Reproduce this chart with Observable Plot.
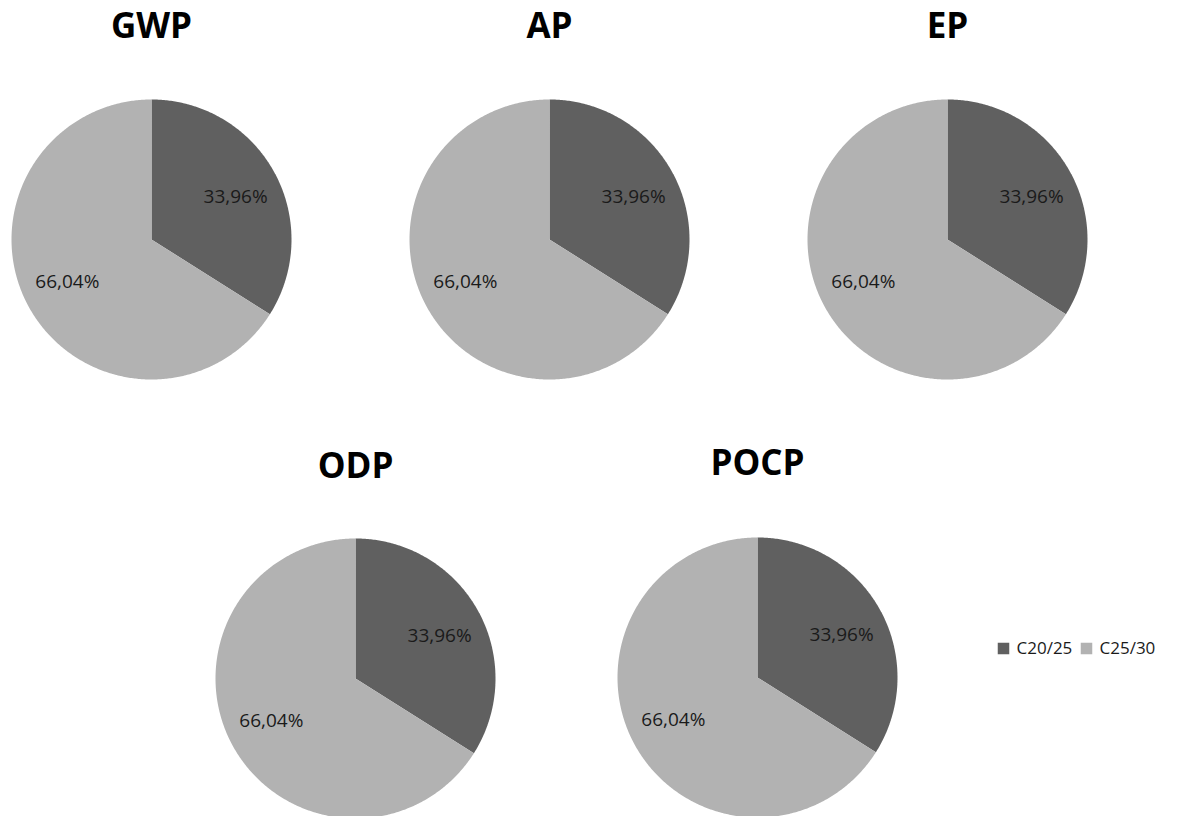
<!DOCTYPE html>
<html>
<head>
<meta charset="utf-8">
<script src="https://cdn.jsdelivr.net/npm/d3@7"></script>
<script src="https://cdn.jsdelivr.net/npm/@observablehq/plot@0.6"></script>
<style>
  html, body { margin: 0; padding: 0; background: #fff; }
  #chart svg { display: block; }
</style>
</head>
<body>
<div id="chart"></div>
<script>
// ---- data ----
const charts = ["GWP", "AP", "EP", "ODP", "POCP"];
const categories = ["C20/25", "C25/30"];
const shares = {
  GWP:  [33.96, 66.04],
  AP:   [33.96, 66.04],
  EP:   [33.96, 66.04],
  ODP:  [33.96, 66.04],
  POCP: [33.96, 66.04]
};
const colors = ["#606060", "#b2b2b2"];

// ---- layout (pixel space) ----
const W = 1199, H = 816;
const centers = {GWP: [151, 239], AP: [549, 239], EP: [947, 239], ODP: [355, 678], POCP: [757, 677]};
const titleY = {GWP: 26, AP: 26, EP: 26, ODP: 466, POCP: 463};
const R = 140;
const legendPos = [[1003, 648], [1086, 648]];

const fmt = v => v.toFixed(2).replace(".", ",") + "%";

const slices = [];
const labels = [];
const titles = [];
for (const c of charts) {
  const [cx, cy] = centers[c];
  const arcs = d3.pie().sort(null)(shares[c]);
  arcs.forEach((a, i) => {
    const key = c + "-" + i;
    slices.push({key, cat: categories[i], x: cx, y: cy});
    const n = Math.max(2, Math.ceil((a.endAngle - a.startAngle) / 0.01));
    for (let k = 0; k <= n; k++) {
      const t = a.startAngle + (a.endAngle - a.startAngle) * k / n;
      slices.push({key, cat: categories[i], x: cx + R * Math.sin(t), y: cy - R * Math.cos(t)});
    }
    slices.push({key, cat: categories[i], x: cx, y: cy});
    const m = (a.startAngle + a.endAngle) / 2;
    const lr = 0.67 * R;
    labels.push({x: cx + lr * Math.sin(m) + (i === 0 ? 2 : -2), y: cy - lr * Math.cos(m) + (i === 0 ? 3 : -3), text: fmt(shares[c][i])});
  });
  titles.push({x: cx, y: titleY[c], text: c});
}
const legend = categories.map((cat, i) => ({cat, x: legendPos[i][0], y: legendPos[i][1]}));

const plot = Plot.plot({
  width: W,
  height: H,
  margin: 0,
  x: {domain: [0, W], range: [0, W], axis: null},
  y: {domain: [0, H], range: [0, H], axis: null},
  color: {domain: categories, range: colors},
  style: {fontFamily: "'Open Sans', sans-serif", background: "#fff"},
  marks: [
    Plot.line(slices, {x: "x", y: "y", z: "key", fill: "cat", stroke: "none", curve: "linear"}),
    Plot.text(labels, {x: "x", y: "y", text: "text", fontSize: 19, fill: "#1a1a1a", fontFamily: "'Open Sans', sans-serif"}),
    Plot.text(titles, {x: "x", y: "y", text: "text", fontSize: 35, fontWeight: "bold", fill: "#000"}),
    Plot.dot(legend, {x: "x", y: "y", fill: "cat", symbol: "square", r: 6.5, stroke: "none"}),
    Plot.text(legend, {x: "x", y: "y", text: "cat", dx: 13, textAnchor: "start", fontSize: 17, fill: "#1a1a1a"})
  ]
});
document.getElementById("chart").appendChild(plot);
</script>
</body>
</html>
